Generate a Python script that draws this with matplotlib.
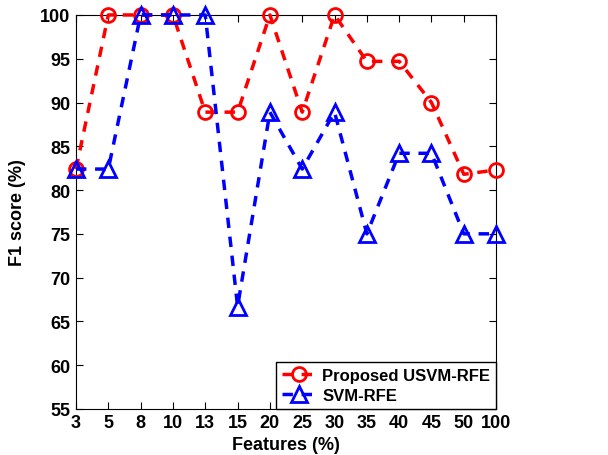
import numpy as np
import matplotlib
matplotlib.use('Agg')
import matplotlib.pyplot as plt

plt.rcParams['font.family'] = ['Liberation Sans', 'DejaVu Sans']
plt.rcParams['font.weight'] = 'bold'

# data
features = ['3', '5', '8', '10', '13', '15', '20', '25', '30', '35', '40', '45', '50', '100']
usvm_rfe = [82.4, 100, 100, 100, 88.9, 88.9, 100, 88.9, 100, 94.7, 94.7, 90.0, 81.8, 82.3]
svm_rfe = [82.4, 82.4, 100, 100, 100, 66.7, 88.9, 82.4, 88.9, 75.0, 84.2, 84.2, 75.0, 75.0]

x = np.arange(len(features))

fig = plt.figure(figsize=(6.08, 4.56), dpi=100)
ax = fig.add_axes([0.125, 0.101, 0.691, 0.864])

ax.plot(x, usvm_rfe, '--', color='red', lw=2.5, marker='o', ms=10,
        mfc='none', mew=2, dashes=(3, 2.5), clip_on=False,
        label='Proposed USVM-RFE', zorder=3)
ax.plot(x, svm_rfe, '--', color='blue', lw=2.5, marker='^', ms=11,
        mfc='none', mew=2, dashes=(3, 2.5), clip_on=False,
        label='SVM-RFE', zorder=4)

ax.set_xlim(0, len(features) - 1)
ax.set_ylim(55, 100)
ax.set_xticks(x)
ax.set_xticklabels(features)
ax.set_yticks(np.arange(55, 101, 5))
ax.tick_params(direction='in', top=True, right=True, labelsize=13,
               length=5, pad=4)
for lab in ax.get_xticklabels() + ax.get_yticklabels():
    lab.set_fontweight('bold')

ax.set_xlabel('Features (%)', fontsize=13, fontweight='bold', labelpad=3)
ax.set_ylabel('F1 score (%)', fontsize=13, fontweight='bold', labelpad=10)

leg = ax.legend(loc='lower right', fontsize=12, fancybox=False, framealpha=1,
                edgecolor='black', borderaxespad=0, handlelength=2.0,
                handletextpad=0.4, borderpad=0.35, labelspacing=0.3)
leg.get_frame().set_linewidth(1)
leg.set_zorder(5)

plt.savefig('out.png', dpi=100)
